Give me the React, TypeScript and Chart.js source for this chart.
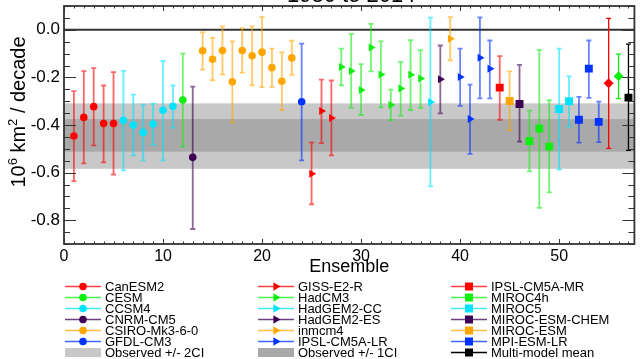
import React, { useEffect, useRef } from "react";
import { Chart, registerables } from "chart.js";
Chart.register(...registerables);

const FONT = "'Liberation Sans', Arial, Helvetica, sans-serif";

const titleText = "1980 to 2014";
const xAxisTitle = "Ensemble";

const modelNames = [
  "CanESM2", "CCSM4", "CESM", "CNRM-CM5", "CSIRO-Mk3-6-0", "GFDL-CM3",
  "GISS-E2-R", "HadCM3", "HadGEM2-CC", "HadGEM2-ES", "inmcm4", "IPSL-CM5A-LR",
  "IPSL-CM5A-MR", "MIROC-ESM", "MIROC-ESM-CHEM", "MIROC4h", "MIROC5", "MPI-ESM-LR",
  "diamond-red", "diamond-green", "Multi-model mean",
];
const memberCounts = [5, 6, 1, 1, 10, 1, 3, 9, 1, 1, 1, 4, 1, 1, 1, 3, 2, 3, 1, 1, 1];
const RED = "#ff0000", GREEN = "#11ee11", CYAN = "#00e4ff", PURPLE = "#3e0052", ORANGE = "#ffa500", BLUE = "#0033ff", BLACK = "#000000";
const modelColors = [
  RED, CYAN, GREEN, PURPLE, ORANGE, BLUE,
  RED, GREEN, CYAN, PURPLE, ORANGE, BLUE,
  RED, ORANGE, PURPLE, GREEN, CYAN, BLUE,
  RED, GREEN, BLACK,
];
const modelMarkers = [
  "circle", "circle", "circle", "circle", "circle", "circle",
  "triangle", "triangle", "triangle", "triangle", "triangle", "triangle",
  "rect", "rect", "rect", "rect", "rect", "rect",
  "rectRot", "rectRot", "rect",
];

// trend per ensemble member (10^6 km^2 / decade), members 1..57
const ensembleTrend = [
  -0.446, -0.368, -0.323, -0.394, -0.394,
  -0.380, -0.400, -0.431, -0.396, -0.338, -0.321,
  -0.295, -0.536,
  -0.088, -0.124, -0.087, -0.218, -0.087, -0.109, -0.094, -0.159, -0.216, -0.118,
  -0.302,
  -0.605, -0.341, -0.371,
  -0.156, -0.173, -0.253, -0.074, -0.188, -0.316, -0.247, -0.189, -0.205,
  -0.303, -0.208, -0.038,
  -0.198, -0.375, -0.117, -0.164,
  -0.243, -0.299, -0.312,
  -0.467, -0.415, -0.491,
  -0.333, -0.300,
  -0.378, -0.163, -0.387,
  -0.225, -0.195, -0.285,
];
const ensembleHigh = [
  -0.258, -0.174, -0.161, -0.234, -0.178,
  -0.173, -0.272, -0.314, -0.310, -0.131, -0.234,
  -0.100, -0.239,
  -0.011, -0.034, 0.014, -0.049, 0.006, 0.014, 0.053, -0.079, -0.095, -0.046,
  -0.058,
  -0.474, -0.209, -0.213,
  -0.079, -0.017, -0.144, 0.025, -0.049, -0.251, -0.135, -0.044, -0.086,
  0.051, -0.066, 0.053,
  -0.079, -0.230, 0.052, -0.045,
  -0.111, -0.175, -0.147,
  -0.340, -0.084, -0.296,
  -0.079, -0.196,
  -0.282, -0.045, -0.302,
  0.048, -0.102, -0.060,
];
const ensembleLow = [
  -0.636, -0.561, -0.486, -0.557, -0.608,
  -0.591, -0.528, -0.549, -0.483, -0.549, -0.411,
  -0.491, -0.837,
  -0.167, -0.212, -0.187, -0.389, -0.180, -0.233, -0.241, -0.241, -0.337, -0.189,
  -0.549,
  -0.733, -0.476, -0.528,
  -0.233, -0.327, -0.358, -0.175, -0.326, -0.379, -0.361, -0.337, -0.328,
  -0.658, -0.351, -0.128,
  -0.320, -0.521, -0.288, -0.288,
  -0.378, -0.422, -0.470,
  -0.595, -0.748, -0.683,
  -0.587, -0.407,
  -0.474, -0.286, -0.472,
  -0.498, -0.289, -0.507,
];

const obs2CI = [-0.584, -0.309];
const obs1CI = [-0.512, -0.375];

const xTickValues = [0, 10, 20, 30, 40, 50];
const yTickValues = [-0.8, -0.6, -0.4, -0.2, 0.0];

const legendColumns = [
  ["CanESM2", "CESM", "CCSM4", "CNRM-CM5", "CSIRO-Mk3-6-0", "GFDL-CM3", "Observed +/- 2CI"],
  ["GISS-E2-R", "HadCM3", "HadGEM2-CC", "HadGEM2-ES", "inmcm4", "IPSL-CM5A-LR", "Observed +/- 1CI"],
  ["IPSL-CM5A-MR", "MIROC4h", "MIROC5", "MIROC-ESM-CHEM", "MIROC-ESM", "MPI-ESM-LR", "Multi-model mean"],
];

function hexA(hex: string, a: number) {
  const r = parseInt(hex.slice(1, 3), 16), g = parseInt(hex.slice(3, 5), 16), b = parseInt(hex.slice(5, 7), 16);
  return `rgba(${r},${g},${b},${a})`;
}

function drawMarker(ctx: CanvasRenderingContext2D, kind: string, x: number, y: number, color: string) {
  ctx.fillStyle = color;
  ctx.beginPath();
  if (kind === "circle") {
    ctx.arc(x, y, 3.8, 0, Math.PI * 2);
  } else if (kind === "triangle") {
    ctx.moveTo(x + 4.5, y);
    ctx.lineTo(x - 2.6, y - 4.2);
    ctx.lineTo(x - 2.6, y + 4.2);
    ctx.closePath();
  } else if (kind === "rect") {
    ctx.rect(x - 4, y - 4, 8, 8);
  } else {
    ctx.moveTo(x - 5, y); ctx.lineTo(x, y - 5); ctx.lineTo(x + 5, y); ctx.lineTo(x, y + 5); ctx.closePath();
  }
  ctx.fill();
}

const decorPlugin = {
  id: "decor",
  beforeDatasetsDraw(chart: any) {
    const { ctx, chartArea: a, scales } = chart;
    const x = scales.x, y = scales.y;
    ctx.save();
    let t = y.getPixelForValue(obs2CI[1]), b = y.getPixelForValue(obs2CI[0]);
    ctx.fillStyle = "#c8c8c8";
    ctx.fillRect(a.left, t, a.right - a.left, b - t);
    t = y.getPixelForValue(obs1CI[1]); b = y.getPixelForValue(obs1CI[0]);
    ctx.fillStyle = "#a9a9a9";
    ctx.fillRect(a.left, t, a.right - a.left, b - t);
    const z = y.getPixelForValue(0);
    ctx.strokeStyle = "#333";
    ctx.lineWidth = 2;
    ctx.beginPath(); ctx.moveTo(a.left, z); ctx.lineTo(a.right, z); ctx.stroke();
    chart.data.datasets.forEach((ds: any, di: number) => {
      const solid = di >= modelNames.length - 3;
      ctx.strokeStyle = solid ? ds.backgroundColor : hexA(ds.backgroundColor, 0.6);
      ctx.lineWidth = solid ? 1.3 : 1.8;
      ds.data.forEach((pt: any) => {
        const px = x.getPixelForValue(pt.x);
        const ph = y.getPixelForValue(pt.hi), pl = y.getPixelForValue(pt.lo);
        ctx.beginPath();
        ctx.moveTo(px, ph); ctx.lineTo(px, pl);
        ctx.moveTo(px - 2.5, ph); ctx.lineTo(px + 2.5, ph);
        ctx.moveTo(px - 2.5, pl); ctx.lineTo(px + 2.5, pl);
        ctx.stroke();
      });
    });
    ctx.restore();
  },
  afterDraw(chart: any) {
    const { ctx, chartArea: a, scales } = chart;
    const x = scales.x, y = scales.y;
    ctx.save();
    // frame
    ctx.strokeStyle = "#333";
    ctx.lineWidth = 1.8;
    ctx.strokeRect(a.left, a.top, a.right - a.left, a.bottom - a.top);
    // ticks
    ctx.lineWidth = 1;
    ctx.beginPath();
    for (let k = 0; k <= 20; k++) {
      const v = y.min + k * 0.05;
      const major = Math.abs(v / 0.2 - Math.round(v / 0.2)) < 1e-6;
      const py = Math.round(y.getPixelForValue(v)) + 0.5;
      const len = major ? 12 : 6;
      ctx.moveTo(a.left, py); ctx.lineTo(a.left + len, py);
      ctx.moveTo(a.right, py); ctx.lineTo(a.right - len, py);
    }
    for (let k = 0; k <= 57; k++) {
      const major = k % 10 === 0;
      const px = Math.round(x.getPixelForValue(k)) + 0.5;
      const len = major ? 5 : 2.5;
      ctx.moveTo(px, a.bottom); ctx.lineTo(px, a.bottom - len);
      ctx.moveTo(px, a.top); ctx.lineTo(px, a.top + len);
    }
    ctx.stroke();
    // title (cropped at top)
    ctx.fillStyle = "#000";
    ctx.font = `22px ${FONT}`;
    ctx.textAlign = "center";
    ctx.textBaseline = "alphabetic";
    ctx.fillText(titleText, (a.left + a.right) / 2 + 2, 2);
    // x title
    ctx.font = `18px ${FONT}`;
    ctx.textBaseline = "middle";
    ctx.fillText(xAxisTitle, (a.left + a.right) / 2, 267);
    // y title with superscripts
    ctx.save();
    ctx.translate(18, 112);
    ctx.rotate(-Math.PI / 2);
    const parts: [string, boolean][] = [["10", false], ["6", true], [" km", false], ["2", true], [" / decade", false]];
    const big = `20px ${FONT}`, small = `13px ${FONT}`;
    let total = 0;
    parts.forEach(([s, sup]) => { ctx.font = sup ? small : big; total += ctx.measureText(s).width; });
    let cx = -total / 2;
    ctx.textAlign = "left";
    ctx.textBaseline = "alphabetic";
    parts.forEach(([s, sup]) => {
      ctx.font = sup ? small : big;
      ctx.fillText(s, cx, sup ? -1 : 7);
      cx += ctx.measureText(s).width;
    });
    ctx.restore();
    // legend
    const colX = [65, 258, 451];
    ctx.font = `13px ${FONT}`;
    ctx.textBaseline = "middle";
    ctx.textAlign = "left";
    legendColumns.forEach((col, ci) => {
      col.forEach((name, ri) => {
        const ly = 286.5 + ri * 11;
        const x0 = colX[ci], x1 = x0 + 36;
        if (name.startsWith("Observed")) {
          ctx.fillStyle = name.includes("2CI") ? "#c8c8c8" : "#a9a9a9";
          ctx.fillRect(x0, ly - 4.5, 36, 9);
        } else {
          const mi = modelNames.indexOf(name);
          const c = modelColors[mi];
          ctx.strokeStyle = c === BLACK ? c : hexA(c, 0.75);
          ctx.lineWidth = 1.5;
          ctx.beginPath(); ctx.moveTo(x0, ly); ctx.lineTo(x1, ly); ctx.stroke();
          drawMarker(ctx, modelMarkers[mi], x0 + 18, ly, c);
        }
        ctx.fillStyle = "#000";
        ctx.fillText(name, x0 + 40, ly + 0.5);
      });
    });
    ctx.restore();
  },
};

export default function App() {
  const ref = useRef<HTMLCanvasElement | null>(null);
  useEffect(() => {
    if (!ref.current) return;
    let start = 1;
    const datasets = modelNames.map((name, mi) => {
      const data = [];
      for (let k = 0; k < memberCounts[mi]; k++) {
        const idx = start + k;
        data.push({ x: idx, y: ensembleTrend[idx - 1], hi: ensembleHigh[idx - 1], lo: ensembleLow[idx - 1] });
      }
      start += memberCounts[mi];
      const marker = modelMarkers[mi];
      const radius = marker === "circle" ? 3.8 : marker === "triangle" ? 4.6 : marker === "rect" ? 5.6 : 5;
      return {
        label: name,
        data,
        backgroundColor: modelColors[mi],
        borderColor: modelColors[mi],
        pointStyle: marker,
        pointRotation: marker === "triangle" ? 90 : 0,
        pointRadius: radius,
        pointBorderWidth: 0,
        showLine: false,
      };
    });
    const chart = new Chart(ref.current, {
      type: "scatter",
      data: { datasets },
      options: {
        animation: false,
        responsive: false,
        devicePixelRatio: 1,
        layout: { padding: { top: 6, right: 1, bottom: 84, left: 0 } },
        plugins: { legend: { display: false }, tooltip: { enabled: false }, title: { display: false } },
        scales: {
          x: {
            type: "linear",
            min: 0,
            max: 57.6,
            grid: { display: false, drawTicks: false },
            border: { display: false },
            afterBuildTicks: (s: any) => { s.ticks = xTickValues.map((v) => ({ value: v })); },
            afterFit: (s: any) => { s.height = 31; s.paddingLeft = 0; s.paddingRight = 0; },
            ticks: {
              padding: 3,
              maxRotation: 0,
              color: "#000",
              font: { family: FONT, size: 16 },
              callback: (v: any) => String(v),
            },
          },
          y: {
            type: "linear",
            min: -0.9,
            max: 0.1,
            grid: { display: false, drawTicks: false },
            border: { display: false },
            afterBuildTicks: (s: any) => { s.ticks = yTickValues.map((v) => ({ value: v })); },
            afterFit: (s: any) => { s.width = 64; s.paddingTop = 0; s.paddingBottom = 0; },
            ticks: {
              padding: 4,
              color: "#000",
              font: { family: FONT, size: 17 },
              callback: (v: any) => Number(v).toFixed(1),
            },
          },
        },
      },
      plugins: [decorPlugin],
    } as any);
    return () => chart.destroy();
  }, []);
  return (
    <div style={{ position: "absolute", left: 0, top: 0, width: 640, height: 359, background: "#fff" }}>
      <canvas ref={ref} width={640} height={359} />
    </div>
  );
}
